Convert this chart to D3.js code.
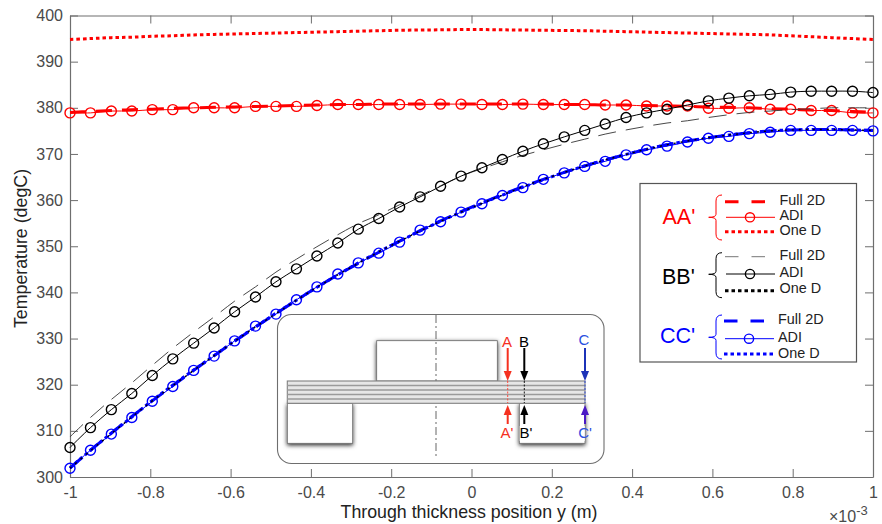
<!DOCTYPE html>
<html>
<head>
<meta charset="utf-8">
<script src="https://cdn.jsdelivr.net/npm/d3@7"></script>
<style>
    html, body { margin: 0; padding: 0; background: #fff; }
    svg { display: block; }
    text { font-family: "Liberation Sans", Arial, sans-serif; }
</style>
</head>
<body>
<div id="chart"></div>
<script>
// through thickness position, in units of 1e-3 m
const yPos = [
    -1, -0.949, -0.897, -0.846, -0.795, -0.744, -0.692, -0.641, -0.59, -0.538,
    -0.487, -0.436, -0.385, -0.333, -0.282, -0.231, -0.179, -0.128, -0.077, -0.026,
    0.026, 0.077, 0.128, 0.179, 0.231, 0.282, 0.333, 0.385, 0.436, 0.487,
    0.538, 0.59, 0.641, 0.692, 0.744, 0.795, 0.846, 0.897, 0.949, 1
];

const aaFull = [
    379.0, 379.2, 379.4, 379.6, 379.7, 379.9, 380.0, 380.1, 380.2, 380.3,
    380.4, 380.5, 380.6, 380.7, 380.7, 380.8, 380.8, 380.8, 380.8, 380.8,
    380.8, 380.8, 380.8, 380.8, 380.7, 380.7, 380.6, 380.6, 380.5, 380.4,
    380.3, 380.2, 380.1, 380.0, 379.8, 379.7, 379.5, 379.4, 379.2, 379.0
];
const aaAdi = [
    378.9, 378.9, 379.3, 379.3, 379.6, 379.6, 380.0, 380.0, 380.0, 380.3,
    380.3, 380.3, 380.5, 380.7, 380.7, 380.7, 380.7, 380.7, 380.8, 380.8,
    380.7, 380.7, 380.8, 380.7, 380.7, 380.7, 380.6, 380.6, 380.4, 380.4,
    380.4, 379.9, 379.9, 380.0, 379.7, 379.7, 379.4, 379.4, 378.9, 378.9
];
const aaOneD = [
    394.8, 395.0, 395.2, 395.3, 395.5, 395.6, 395.8, 395.9, 396.0, 396.1,
    396.2, 396.3, 396.4, 396.5, 396.6, 396.7, 396.8, 396.85, 396.9, 396.95,
    396.95, 396.9, 396.85, 396.8, 396.75, 396.7, 396.6, 396.5, 396.4, 396.3,
    396.2, 396.1, 396.0, 395.9, 395.8, 395.6, 395.4, 395.2, 395.0, 394.8
];

const bbFull = [
    308.7, 312.9, 316.8, 320.4, 324.2, 327.9, 331.4, 334.7, 338.1, 341.2,
    344.4, 347.2, 349.9, 352.5, 354.9, 356.8, 359.0, 361.0, 363.1, 365.2,
    366.8, 368.3, 369.7, 370.9, 372.1, 373.2, 374.3, 375.2, 376.0, 376.7,
    377.2, 377.9, 378.5, 379.0, 379.3, 379.6, 379.8, 380.0, 380.0, 380.0
];
const bbAdi = [
    306.4, 310.7, 314.6, 318.1, 322.0, 325.6, 329.0, 332.3, 335.8, 339.0,
    342.3, 345.1, 347.9, 350.7, 353.7, 356.0, 358.5, 360.7, 363.0, 365.2,
    367.0, 368.8, 370.6, 372.2, 373.7, 375.1, 376.5, 377.9, 378.9, 379.7,
    380.6, 381.5, 382.1, 382.6, 382.9, 383.4, 383.6, 383.6, 383.6, 383.3
];
const bbOneD = [
    301.9, 305.7, 309.4, 313.0, 316.5, 319.8, 323.1, 326.3, 329.4, 332.5,
    335.4, 338.3, 341.1, 343.8, 346.3, 348.8, 351.1, 353.3, 355.4, 357.4,
    359.3, 361.1, 362.9, 364.5, 366.0, 367.4, 368.7, 369.9, 371.0, 372.0,
    372.8, 373.5, 374.1, 374.6, 375.0, 375.2, 375.3, 375.3, 375.2, 375.1
];

const ccFull = [
    301.9, 305.8, 309.5, 313.1, 316.5, 319.8, 323.1, 326.3, 329.4, 332.5,
    335.4, 338.3, 341.1, 343.8, 346.3, 348.7, 351.1, 353.4, 355.5, 357.5,
    359.4, 361.2, 362.9, 364.5, 366.0, 367.4, 368.7, 369.9, 371.0, 372.0,
    372.8, 373.5, 374.1, 374.6, 375.0, 375.2, 375.3, 375.3, 375.2, 375.1
];
const ccAdi = [
    301.9, 305.8, 309.3, 312.9, 316.4, 319.6, 323.1, 326.2, 329.5, 332.7,
    335.3, 338.4, 341.2, 344.0, 346.4, 348.5, 350.9, 353.5, 355.3, 357.4,
    359.2, 361.0, 362.7, 364.5, 365.9, 367.3, 368.4, 369.8, 370.9, 371.7,
    372.6, 373.4, 373.8, 374.4, 374.7, 375.1, 375.1, 375.1, 375.1, 375.0
];
const ccOneD = [
    302.0, 305.8, 309.5, 313.0, 316.6, 319.9, 323.2, 326.3, 329.5, 332.5,
    335.5, 338.3, 341.1, 343.8, 346.4, 348.8, 351.1, 353.3, 355.4, 357.4,
    359.3, 361.1, 362.8, 364.4, 366.0, 367.4, 368.7, 369.9, 371.0, 372.0,
    372.8, 373.5, 374.1, 374.6, 375.0, 375.2, 375.3, 375.3, 375.2, 375.1
];

const xTicks = [-1, -0.8, -0.6, -0.4, -0.2, 0, 0.2, 0.4, 0.6, 0.8, 1];
const yTicks = [300, 310, 320, 330, 340, 350, 360, 370, 380, 390, 400];
const legendRows = ["Full 2D", "ADI", "One D"];

const RED = "#ff0000", BLACK = "#000000", BLUE = "#0000ff";
const FULL_THICK = "16 10", FULL_THIN = "18 10", DOTS = "3.5 3";

const width = 882, height = 524;
const plot = { left: 70, right: 873, top: 15.5, bottom: 477 };

const svg = d3.select("#chart").append("svg")
    .attr("width", width)
    .attr("height", height);

const defs = svg.append("defs");
const shadow = defs.append("filter").attr("id", "shadow")
    .attr("x", "-20%").attr("y", "-20%").attr("width", "140%").attr("height", "140%");
shadow.append("feDropShadow")
    .attr("dx", 0).attr("dy", 1.5).attr("stdDeviation", 2)
    .attr("flood-color", "#000").attr("flood-opacity", 0.85);

const x = d3.scaleLinear().domain([-1, 1]).range([plot.left, plot.right]);
const y = d3.scaleLinear().domain([300, 400]).range([plot.bottom, plot.top]);

const line = d3.line()
    .x(function (d, i) { return x(yPos[i]); })
    .y(function (d) { return y(d); })
    .curve(d3.curveCatmullRom);

// axes, ticks on all four sides pointing inwards
function styleAxis(g) {
    g.selectAll("path").attr("stroke", "#6e6e6e").attr("stroke-width", 1.2);
    g.selectAll("line").attr("stroke", "#6e6e6e").attr("stroke-width", 1);
    g.selectAll("text").attr("fill", "#4a4a4a").style("font-size", "16px");
}

function xFormat(d) { return d === 0 ? "0" : String(d); }

svg.append("g")
    .attr("transform", "translate(0," + plot.bottom + ")")
    .call(d3.axisBottom(x).tickValues(xTicks).tickFormat(xFormat).tickSizeInner(-8).tickSizeOuter(0).tickPadding(10))
    .call(styleAxis);
svg.append("g")
    .attr("transform", "translate(0," + plot.top + ")")
    .call(d3.axisTop(x).tickValues(xTicks).tickFormat("").tickSizeInner(-8).tickSizeOuter(0))
    .call(styleAxis);
svg.append("g")
    .attr("transform", "translate(" + plot.left + ",0)")
    .call(d3.axisLeft(y).tickValues(yTicks).tickFormat(d3.format("d")).tickSizeInner(-8).tickSizeOuter(0).tickPadding(7))
    .call(styleAxis);
svg.append("g")
    .attr("transform", "translate(" + plot.right + ",0)")
    .call(d3.axisRight(y).tickValues(yTicks).tickFormat("").tickSizeInner(-8).tickSizeOuter(0))
    .call(styleAxis);

svg.selectAll(".domain").attr("fill", "none");

svg.append("text")
    .attr("x", 469).attr("y", 518)
    .attr("text-anchor", "middle")
    .attr("fill", "#222")
    .style("font-size", "17.8px")
    .text("Through thickness position y (m)");

svg.append("text")
    .attr("transform", "translate(27,248.5) rotate(-90)")
    .attr("text-anchor", "middle")
    .attr("fill", "#222")
    .style("font-size", "17.8px")
    .text("Temperature (degC)");

const expLabel = svg.append("text")
    .attr("x", 829).attr("y", 521.5)
    .attr("fill", "#4a4a4a")
    .style("font-size", "16px");
expLabel.append("tspan").text("\u00d710");
expLabel.append("tspan").attr("dy", -6.5).style("font-size", "13px").text("-3");

// curves
function addLine(values, color, w, dash) {
    svg.append("path")
        .datum(values)
        .attr("fill", "none")
        .attr("stroke", color)
        .attr("stroke-width", w)
        .attr("stroke-dasharray", dash)
        .attr("d", line);
}

function addCircles(values, color) {
    svg.append("g").selectAll("circle")
        .data(values)
        .enter()
        .append("circle")
        .attr("cx", function (d, i) { return x(yPos[i]); })
        .attr("cy", function (d) { return y(d); })
        .attr("r", 5)
        .attr("fill", "none")
        .attr("stroke", color)
        .attr("stroke-width", 1.4);
}

addLine(aaOneD, RED, 3, DOTS);
addLine(aaFull, RED, 3, FULL_THICK);
addLine(aaAdi, RED, 1, null);
addCircles(aaAdi, RED);

addLine(bbFull, "#333", 0.9, FULL_THIN);
addLine(bbAdi, BLACK, 1, null);
addCircles(bbAdi, BLACK);

addLine(ccFull, BLUE, 3, FULL_THICK);
addLine(ccOneD, BLUE, 3, DOTS);
addLine(ccAdi, BLUE, 1, null);
addCircles(ccAdi, BLUE);
addLine(bbOneD, BLACK, 1.4, "2 5");

// inset sketch of the section
const inset = svg.append("g");
inset.append("rect")
    .attr("x", 277.5).attr("y", 314.5)
    .attr("width", 326.5).attr("height", 149)
    .attr("rx", 14)
    .attr("fill", "#fff")
    .attr("stroke", "#6e6e6e")
    .attr("stroke-width", 1.1);

function block(x0, y0, w, h) {
    inset.append("rect")
        .attr("x", x0).attr("y", y0)
        .attr("width", w).attr("height", h)
        .attr("fill", "#fff")
        .attr("stroke", "#666")
        .attr("stroke-width", 0.8)
        .attr("filter", "url(#shadow)");
}

block(376.7, 340.7, 120.6, 40.3);
block(287.3, 403.3, 65.4, 40);
block(519.3, 403.3, 65.7, 40);

// dash dot centre line
inset.append("line")
    .attr("x1", 436).attr("x2", 436)
    .attr("y1", 315).attr("y2", 458)
    .attr("stroke", "#555")
    .attr("stroke-width", 0.9)
    .attr("stroke-dasharray", "8 3 2 3");

inset.append("rect")
    .attr("x", 287.3).attr("y", 381)
    .attr("width", 297.7).attr("height", 22.3)
    .attr("fill", "#e6e6e6")
    .attr("stroke", "#808080")
    .attr("stroke-width", 1.1);
[385.5, 390, 394.5, 399].forEach(function (ly) {
    inset.append("line")
        .attr("x1", 287.3).attr("x2", 585)
        .attr("y1", ly).attr("y2", ly)
        .attr("stroke", "#9a9a9a")
        .attr("stroke-width", 1.4);
});

function arrow(ax, y0, y1, color) {
    const dir = y1 > y0 ? 1 : -1;
    inset.append("line")
        .attr("x1", ax).attr("x2", ax)
        .attr("y1", y0).attr("y2", y1 - dir * 8)
        .attr("stroke", color)
        .attr("stroke-width", 2);
    inset.append("path")
        .attr("d", "M" + (ax - 4) + "," + (y1 - dir * 10) + "L" + ax + "," + y1 + "L" + (ax + 4) + "," + (y1 - dir * 10) + "Z")
        .attr("fill", color);
}

function sectionLabel(tx, ty, txt, color) {
    inset.append("text")
        .attr("x", tx).attr("y", ty)
        .attr("text-anchor", "middle")
        .attr("fill", color)
        .style("font-size", "15px")
        .text(txt);
}

function through(ax, color) {
    inset.append("line")
        .attr("x1", ax).attr("x2", ax)
        .attr("y1", 381).attr("y2", 403)
        .attr("stroke", color)
        .attr("stroke-width", 0.9)
        .attr("stroke-dasharray", "2 1.5");
}

inset.append("rect").attr("x", 519.7).attr("y", 426).attr("width", 65).attr("height", 15).attr("fill", "#fff");

through(507.7, "#ff3b30");
through(524.3, "#000");
through(585, "#2040e0");

arrow(507.7, 348, 381, "#f5301f");
arrow(524.3, 348, 381, "#000");
arrow(585, 348, 381, "#1c33b8");
arrow(507.7, 424, 405, "#f5301f");
arrow(524.3, 424, 405, "#000");
arrow(585, 424, 405, "#4a18c4");

sectionLabel(507, 347, "A", "#f5301f");
sectionLabel(524, 347, "B", "#000");
sectionLabel(584, 345, "C", "#2a4fe0");
sectionLabel(507, 438, "A'", "#f5301f");
sectionLabel(526, 438, "B'", "#000");
sectionLabel(585, 438, "C'", "#2a4fe0");

// legend box
const legend = svg.append("g");
legend.append("rect")
    .attr("x", 640).attr("y", 183.5)
    .attr("width", 216.5).attr("height", 178.5)
    .attr("fill", "#fff")
    .attr("stroke", "#555")
    .attr("stroke-width", 1.2);

function brace(top, tip, bottom, color) {
    const l = 716, r = 722, t = 708.7;
    legend.append("path")
        .attr("d", "M" + r + "," + top + "Q" + l + "," + top + " " + l + "," + (top + 6) +
            "L" + l + "," + (tip - 3) + "Q" + l + "," + tip + " " + t + "," + tip +
            "Q" + l + "," + tip + " " + l + "," + (tip + 3) +
            "L" + l + "," + (bottom - 6) + "Q" + l + "," + bottom + " " + r + "," + bottom)
        .attr("fill", "none")
        .attr("stroke", color)
        .attr("stroke-width", 1);
}

function legendGroup(name, color, nameX, nameY, top, tip, bottom, x0, rowY, textX, textY, full) {
    legend.append("text")
        .attr("x", nameX).attr("y", nameY)
        .attr("fill", color)
        .style("font-size", "21.5px")
        .text(name);
    brace(top, tip, bottom, color);

    legend.append("line")
        .attr("x1", x0).attr("x2", x0 + 40)
        .attr("y1", rowY[0]).attr("y2", rowY[0])
        .attr("stroke", full.color)
        .attr("stroke-width", full.w)
        .attr("stroke-dasharray", "13.5 13");
    legend.append("line")
        .attr("x1", x0 + 1).attr("x2", x0 + 50)
        .attr("y1", rowY[1]).attr("y2", rowY[1])
        .attr("stroke", color)
        .attr("stroke-width", 1);
    legend.append("circle")
        .attr("cx", x0 + 25).attr("cy", rowY[1])
        .attr("r", 4.6)
        .attr("fill", "none")
        .attr("stroke", color)
        .attr("stroke-width", 1.4);
    legend.append("line")
        .attr("x1", x0).attr("x2", x0 + 49)
        .attr("y1", rowY[2]).attr("y2", rowY[2])
        .attr("stroke", color)
        .attr("stroke-width", 3)
        .attr("stroke-dasharray", DOTS);

    legendRows.forEach(function (label, i) {
        legend.append("text")
            .attr("x", textX).attr("y", textY[i])
            .attr("fill", "#222")
            .style("font-size", "14.4px")
            .text(label);
    });
}

legendGroup("AA'", RED, 662.5, 224, 195, 217.3, 240, 725, [201.7, 217.3, 231.7], 779.5, [205, 220, 235], { color: RED, w: 3 });
legendGroup("BB'", BLACK, 662, 283.5, 252.7, 274.3, 297.7, 725, [256.7, 274, 290.7], 779.5, [260, 276.7, 293.3], { color: "#777", w: 1 });
legendGroup("CC'", BLUE, 660, 342.7, 315, 337.3, 359, 724, [321, 338.7, 354], 778, [324.3, 341.5, 358], { color: BLUE, w: 3 });
</script>
</body>
</html>
